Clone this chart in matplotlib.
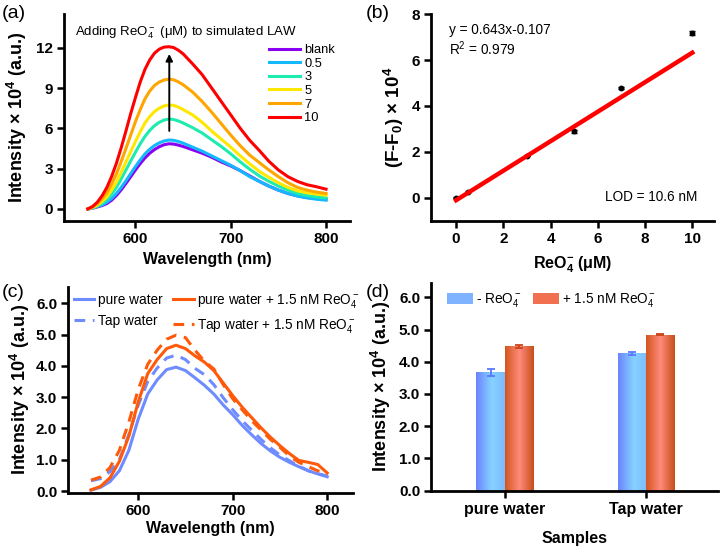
import numpy as np
import matplotlib
matplotlib.use("Agg")
import matplotlib.pyplot as plt
from matplotlib.colors import LinearSegmentedColormap
from matplotlib.patches import Patch

plt.rcParams['font.family'] = ['Liberation Sans', 'DejaVu Sans']
plt.rcParams['mathtext.fontset'] = 'custom'
plt.rcParams['mathtext.rm'] = 'Liberation Sans'
plt.rcParams['mathtext.it'] = 'Liberation Sans:italic'
plt.rcParams['mathtext.bf'] = 'Liberation Sans:bold'

# ---------------- data (a) ----------------
wl_a = [550, 555, 560, 565, 570, 575, 580, 585, 590, 595, 600, 605, 610, 615, 620, 625,
        630, 635, 640, 645, 650, 660, 670, 680, 690, 700, 710, 720, 730, 740, 750, 760,
        770, 780, 790, 800]
conc_labels = ['blank', '0.5', '3', '5', '7', '10']
conc_colors = ['#8A00F0', '#14B8FF', '#1EEBB0', '#FFE800', '#FFA500', '#FF0000']
blank = [0, 0.05, 0.15, 0.25, 0.4, 0.65, 1.0, 1.42, 1.9, 2.4, 2.9, 3.38, 3.8, 4.15, 4.42, 4.63,
         4.78, 4.85, 4.83, 4.75, 4.65, 4.4, 4.15, 3.85, 3.5, 3.2, 2.85, 2.45, 2.05, 1.7, 1.4, 1.15,
         0.98, 0.85, 0.78, 0.72]
c05 = [0, 0.06, 0.18, 0.3, 0.5, 0.78, 1.15, 1.6, 2.1, 2.63, 3.15, 3.65, 4.1, 4.45, 4.72, 4.92,
       5.06, 5.13, 5.11, 5.02, 4.9, 4.6, 4.3, 3.95, 3.6, 3.25, 2.85, 2.4, 2.05, 1.7, 1.4, 1.15,
       0.95, 0.82, 0.72, 0.65]
c3 = [0, 0.08, 0.22, 0.42, 0.7, 1.1, 1.6, 2.22, 2.9, 3.57, 4.22, 4.85, 5.4, 5.85, 6.2, 6.45,
      6.62, 6.69, 6.66, 6.55, 6.4, 6.05, 5.65, 5.15, 4.65, 4.1, 3.5, 2.95, 2.45, 2.05, 1.7, 1.4,
      1.15, 1.0, 0.9, 0.82]
c5 = [0, 0.1, 0.28, 0.55, 0.9, 1.4, 2.0, 2.72, 3.5, 4.27, 5.02, 5.75, 6.4, 6.88, 7.25, 7.5,
      7.67, 7.74, 7.71, 7.58, 7.4, 7.0, 6.45, 5.8, 5.2, 4.6, 3.95, 3.35, 2.8, 2.35, 1.95, 1.6,
      1.35, 1.2, 1.1, 1.02]
c7 = [0, 0.13, 0.38, 0.75, 1.2, 1.85, 2.6, 3.52, 4.5, 5.5, 6.5, 7.4, 8.2, 8.78, 9.2, 9.45,
      9.6, 9.66, 9.62, 9.46, 9.25, 8.7, 8.0, 7.2, 6.35, 5.5, 4.7, 4.0, 3.45, 2.9, 2.4, 1.95,
      1.6, 1.4, 1.25, 1.15]
c10 = [0, 0.18, 0.5, 0.98, 1.6, 2.42, 3.4, 4.55, 5.8, 7.1, 8.3, 9.45, 10.4, 11.1, 11.6, 11.9,
       12.05, 12.08, 12.02, 11.82, 11.55, 10.8, 10.0, 9.0, 8.0, 7.0, 6.0, 5.1, 4.35, 3.55, 2.9, 2.4,
       2.05, 1.8, 1.65, 1.47]
series_a = [blank, c05, c3, c5, c7, c10]

# ---------------- data (b) ----------------
conc_b = [0, 0.5, 3, 5, 7, 10]
dF_b = [0.0, 0.27, 1.83, 2.89, 4.78, 7.17]
err_b = [0.03, 0.03, 0.03, 0.06, 0.05, 0.08]
slope_b, intercept_b = 0.643, -0.107

# ---------------- data (c) ----------------
wl_c = [550, 560, 570, 580, 590, 600, 610, 620, 630, 640, 650, 660, 670, 680, 690,
        700, 710, 720, 730, 740, 750, 760, 770, 780, 790, 800]
pure = [0.03, 0.12, 0.3, 0.65, 1.3, 2.3, 3.1, 3.55, 3.88, 3.96, 3.85, 3.62, 3.38, 3.1, 2.75,
        2.44, 2.1, 1.8, 1.52, 1.28, 1.08, 0.92, 0.78, 0.65, 0.55, 0.46]
tap = [0.33, 0.4, 0.62, 1.0, 1.8, 2.75, 3.5, 3.93, 4.25, 4.34, 4.2, 3.92, 3.72, 3.4, 2.98,
       2.6, 2.25, 1.95, 1.65, 1.38, 1.15, 0.97, 0.8, 0.65, 0.56, 0.48]
pure_re = [0.04, 0.15, 0.42, 0.95, 1.75, 2.85, 3.75, 4.2, 4.55, 4.66, 4.55, 4.32, 4.12, 3.85, 3.45,
           3.05, 2.68, 2.35, 2.02, 1.72, 1.45, 1.2, 0.98, 0.92, 0.85, 0.58]
tap_re = [0.35, 0.45, 0.75, 1.3, 2.2, 3.25, 4.05, 4.5, 4.85, 4.98, 4.9, 4.5, 4.15, 3.9, 3.4,
          2.95, 2.6, 2.25, 1.95, 1.65, 1.4, 1.12, 0.92, 0.78, 0.65, 0.55]

# ---------------- data (d) ----------------
samples = ['pure water', 'Tap water']
no_re = [3.67, 4.26]
no_re_err = [0.10, 0.04]
with_re = [4.48, 4.84]
with_re_err = [0.05, 0.015]

BLUE = '#6E8CFF'
ORANGE = '#FF5A0A'

fig = plt.figure(figsize=(7.2, 5.47), dpi=100)

TICK_FS = 11
XLAB_FS = 11.5


def style(ax):
    for s in ['top', 'right']:
        ax.spines[s].set_visible(False)
    for s in ['left', 'bottom']:
        ax.spines[s].set_linewidth(2.0)
    ax.tick_params(direction='out', length=5, width=1.8, labelsize=TICK_FS, pad=3)
    for lab in ax.get_xticklabels() + ax.get_yticklabels():
        lab.set_fontweight('bold')


# ---------------- panel (a) ----------------
axa = fig.add_axes([0.0889, 0.596, 0.397, 0.378])
for y, lab, col in zip(series_a, conc_labels, conc_colors):
    axa.plot(wl_a, y, color=col, lw=2.2, label=lab)
axa.set_xlim(525, 825)
axa.set_ylim(-0.9, 14.5)
axa.set_xticks([600, 700, 800])
axa.set_yticks([0, 3, 6, 9, 12])
style(axa)
axa.set_xlabel('Wavelength (nm)', fontsize=XLAB_FS, fontweight='bold', labelpad=4)
axa.set_ylabel(r'Intensity × 10$^\mathbf{4}$ (a.u.)', fontsize=13, fontweight='bold', labelpad=5)
axa.annotate('', xy=(635.5, 11.75), xytext=(635.5, 5.6),
             arrowprops=dict(arrowstyle='-|>', color='black', lw=1.4, mutation_scale=10))
axa.text(537, 13.15, r'Adding ReO$_4^-$ (μM) to simulated LAW', fontsize=9.5, va='center')
axa.legend(loc='upper left', bbox_to_anchor=(0.7, 0.88), frameon=False, fontsize=9.3,
           handlelength=2.4, handletextpad=0.3, labelspacing=0.12, borderaxespad=0)
fig.text(0.003, 0.975, '(a)', fontsize=14, va='center')

# ---------------- panel (b) ----------------
axb = fig.add_axes([0.599, 0.5965, 0.392, 0.3775])
axb.errorbar(conc_b, dF_b, yerr=err_b, fmt='o', color='black', ms=3.2, capsize=2.5,
             elinewidth=1, capthick=1, zorder=2)
xfit = np.array([min(conc_b), max(conc_b)])
axb.plot(xfit, slope_b * xfit + intercept_b, color='#FF0000', lw=3.2, zorder=3)
axb.set_xlim(-1.05, 10.9)
axb.set_ylim(-1, 8)
axb.set_xticks([0, 2, 4, 6, 8, 10])
axb.set_yticks([0, 2, 4, 6, 8])
style(axb)
axb.set_xlabel(r'ReO$_\mathbf{4}^\mathbf{-}$ (μM)', fontsize=XLAB_FS, fontweight='bold', labelpad=6)
axb.set_ylabel(r'(F-F$_\mathbf{0}$) × 10$^\mathbf{4}$', fontsize=13.5, fontweight='bold', labelpad=4)
axb.text(-0.3, 7.3, 'y = 0.643x-0.107', fontsize=9.8, va='center')
axb.text(-0.3, 6.5, r'R$^2$ = 0.979', fontsize=9.8, va='center')
axb.text(10.2, 0.05, 'LOD = 10.6 nM', fontsize=9.8, va='center', ha='right')
fig.text(0.508, 0.975, '(b)', fontsize=14, va='center')

# ---------------- panel (c) ----------------
axc = fig.add_axes([0.0949, 0.0987, 0.395, 0.3773])
axc.plot(wl_c, pure, color=BLUE, lw=2.2, label='pure water')
axc.plot(wl_c, tap, color=BLUE, lw=2.2, ls=(0, (3.5, 2.5)), label='Tap water')
axc.plot(wl_c, pure_re, color=ORANGE, lw=2.2, label=r'pure water + 1.5 nM ReO$_4^-$')
axc.plot(wl_c, tap_re, color=ORANGE, lw=2.2, ls=(0, (3.5, 2.5)), label=r'Tap water + 1.5 nM ReO$_4^-$')
axc.set_xlim(526, 827)
axc.set_ylim(-0.06, 6.53)
axc.set_xticks([600, 700, 800])
axc.set_yticks([0, 1, 2, 3, 4, 5, 6])
axc.set_yticklabels(['0.0', '1.0', '2.0', '3.0', '4.0', '5.0', '6.0'])
style(axc)
axc.set_xlabel('Wavelength (nm)', fontsize=XLAB_FS, fontweight='bold', labelpad=2)
axc.set_ylabel(r'Intensity × 10$^\mathbf{4}$ (a.u.)', fontsize=13, fontweight='bold', labelpad=3)
h = axc.get_legend_handles_labels()[0]
axc.legend(h, [l.get_label() for l in h], loc='upper left', bbox_to_anchor=(0.0, 1.0), ncol=2,
           frameon=False, fontsize=9.8, handlelength=1.5, handletextpad=0.25, columnspacing=0.8,
           labelspacing=0.5, borderaxespad=0)
fig.text(0.003, 0.466, '(c)', fontsize=14, va='center')

# ---------------- panel (d) ----------------
axd = fig.add_axes([0.599, 0.103, 0.398, 0.380])
xpos = np.arange(len(samples))
bw = 0.2
blue_cmap = LinearSegmentedColormap.from_list('b', [(0, '#6A84FF'), (0.55, '#86D2FF'), (1, '#7DBBFF')])
red_cmap = LinearSegmentedColormap.from_list('r', [(0, '#D4561F'), (0.5, '#FF8B7A'), (1, '#C84E1B')])
bars1 = axd.bar(xpos - bw / 2, no_re, bw, color='none', edgecolor='none')
bars2 = axd.bar(xpos + bw / 2, with_re, bw, color='none', edgecolor='none')
grad = np.linspace(0, 1, 64).reshape(1, -1)
for bars, cmap in [(bars1, blue_cmap), (bars2, red_cmap)]:
    for b in bars:
        x0, w, hgt = b.get_x(), b.get_width(), b.get_height()
        axd.imshow(grad, cmap=cmap, extent=[x0, x0 + w, 0, hgt], aspect='auto', zorder=2,
                   interpolation='bilinear')
axd.errorbar(xpos - bw / 2, no_re, yerr=no_re_err, fmt='none', ecolor='#5A78FF', capsize=3,
             elinewidth=1.3, capthick=1.3, zorder=3)
axd.errorbar(xpos + bw / 2, with_re, yerr=with_re_err, fmt='none', ecolor='#C8461A', capsize=3,
             elinewidth=1.3, capthick=1.3, zorder=3)
axd.set_xlim(-0.52, 1.51)
axd.set_ylim(0, 6.45)
axd.set_xticks(xpos)
axd.set_xticklabels(samples)
axd.set_yticks([0, 1, 2, 3, 4, 5, 6])
axd.set_yticklabels(['0.0', '1.0', '2.0', '3.0', '4.0', '5.0', '6.0'])
style(axd)
axd.tick_params(axis='x', labelsize=11.5)
axd.set_xlabel('Samples', fontsize=XLAB_FS, fontweight='bold', labelpad=10)
axd.set_ylabel(r'Intensity × 10$^\mathbf{4}$ (a.u.)', fontsize=13, fontweight='bold', labelpad=4)
leg_handles = [Patch(facecolor='#7FB2FF', edgecolor='none'), Patch(facecolor='#F07050', edgecolor='none')]
axd.legend(leg_handles, [r'- ReO$_4^-$', r'+ 1.5 nM ReO$_4^-$'], loc='upper left',
           bbox_to_anchor=(0.035, 0.985), ncol=2, frameon=False, fontsize=9.8,
           handlelength=1.9, handleheight=0.9, handletextpad=0.25, columnspacing=0.85, borderaxespad=0)
fig.text(0.508, 0.466, '(d)', fontsize=14, va='center')

fig.savefig('out.png', dpi=100)
